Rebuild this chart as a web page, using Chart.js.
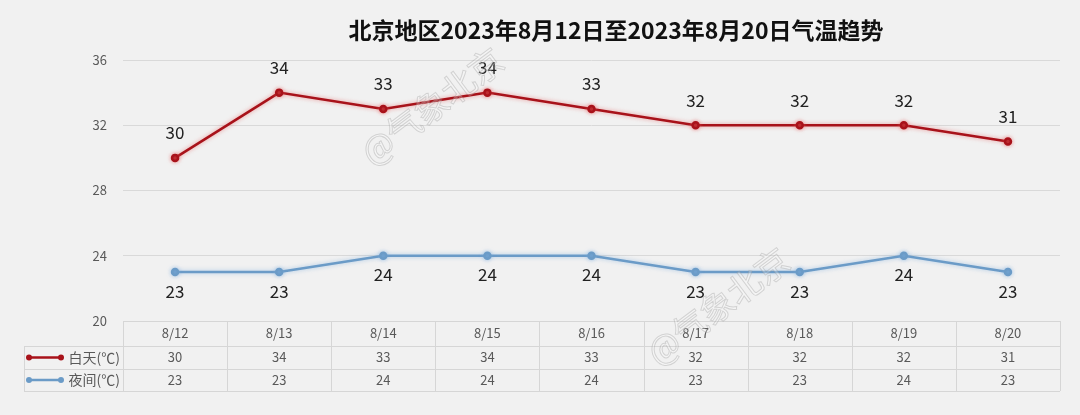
<!DOCTYPE html>
<html>
<head>
<meta charset="utf-8">
<script src="https://cdn.jsdelivr.net/npm/chart.js@4/dist/chart.umd.min.js"></script>
<style>
  html, body { margin: 0; padding: 0; background: #f1f1f1; }
  #wrap { width: 1080px; height: 415px; position: relative; }
</style>
</head>
<body>
<div id="wrap"><canvas id="tempChart"></canvas></div>
<script>
// Data
const days = ['8/12', '8/13', '8/14', '8/15', '8/16', '8/17', '8/18', '8/19', '8/20'];
const dayTemps = [30, 34, 33, 34, 33, 32, 32, 32, 31];
const nightTemps = [23, 23, 24, 24, 24, 23, 23, 24, 23];
const yTicks = [20, 24, 28, 32, 36];
const seriesNames = ['白天(℃)', '夜间(℃)'];
const titleText = '北京地区2023年8月12日至2023年8月20日气温趋势';

const FONT = '"Noto Sans CJK SC", "Noto Sans", sans-serif';
const RED = '#a8121a';
const BLUE = '#6b9bc7';

// value labels above / below the points
const valueLabels = {
  id: 'valueLabels',
  afterDatasetsDraw(chart) {
    const ctx = chart.ctx;
    ctx.save();
    ctx.font = '17px ' + FONT;
    ctx.fillStyle = '#222';
    ctx.textAlign = 'center';
    ctx.textBaseline = 'middle';
    chart.data.datasets.forEach((ds, i) => {
      const meta = chart.getDatasetMeta(i);
      meta.data.forEach((pt, j) => {
        const dy = i === 0 ? -25 : 19;
        ctx.fillText(String(ds.data[j]), pt.x, pt.y + dy);
      });
    });
    ctx.restore();
  }
};

// soft halo behind the lines
const halo = {
  id: 'halo',
  beforeDatasetDraw(chart, args) {
    const ctx = chart.ctx;
    ctx.save();
    ctx.shadowColor = args.index === 0 ? 'rgba(230,90,90,0.6)' : 'rgba(120,170,220,0.6)';
    ctx.shadowBlur = 4;
  },
  afterDatasetDraw(chart) {
    chart.ctx.restore();
  }
};

// title, data table and watermark
const extras = {
  id: 'extras',
  afterDraw(chart) {
    const ctx = chart.ctx;
    const area = chart.chartArea;
    const x = chart.scales.x;
    const step = (area.right - area.left) / days.length;
    const top = area.bottom;
    const rows = [top, top + 25, top + 48, top + 70];
    const tableLeft = 24;

    ctx.save();
    // title
    ctx.font = 'bold 23px ' + FONT;
    ctx.fillStyle = '#111';
    ctx.textAlign = 'center';
    ctx.textBaseline = 'middle';
    ctx.fillText(titleText, 616, 30);

    // table grid
    ctx.strokeStyle = '#d6d6d6';
    ctx.lineWidth = 1;
    ctx.beginPath();
    ctx.moveTo(area.left, rows[0] + 0.5); ctx.lineTo(area.right, rows[0] + 0.5);
    for (let r = 1; r < rows.length; r++) {
      ctx.moveTo(tableLeft, rows[r] + 0.5); ctx.lineTo(area.right, rows[r] + 0.5);
    }
    for (let c = 0; c <= days.length; c++) {
      const vx = Math.round(area.left + c * step) + 0.5;
      ctx.moveTo(vx, rows[0]); ctx.lineTo(vx, rows[3]);
    }
    ctx.moveTo(tableLeft + 0.5, rows[1]); ctx.lineTo(tableLeft + 0.5, rows[3]);
    ctx.stroke();

    // table text
    ctx.font = '13px ' + FONT;
    ctx.fillStyle = '#595959';
    days.forEach((d, j) => {
      const cx = x.getPixelForValue(j);
      ctx.fillText(d, cx, (rows[0] + rows[1]) / 2);
      ctx.fillText(String(dayTemps[j]), cx, (rows[1] + rows[2]) / 2);
      ctx.fillText(String(nightTemps[j]), cx, (rows[2] + rows[3]) / 2);
    });

    // legend keys in the row headers
    [RED, BLUE].forEach((col, i) => {
      const cy = (rows[i + 1] + rows[i + 2]) / 2;
      ctx.strokeStyle = col;
      ctx.fillStyle = col;
      ctx.lineWidth = 2.5;
      ctx.beginPath(); ctx.moveTo(29, cy); ctx.lineTo(61, cy); ctx.stroke();
      [29, 61].forEach(px => { ctx.beginPath(); ctx.arc(px, cy, 3, 0, Math.PI * 2); ctx.fill(); });
      ctx.fillStyle = '#595959';
      ctx.font = '14px ' + FONT;
      ctx.textAlign = 'right';
      ctx.fillText(seriesNames[i], 120, cy);
    });

    // faint watermark
    ctx.font = '34px ' + FONT;
    ctx.strokeStyle = 'rgba(150,150,150,0.35)';
    ctx.fillStyle = 'rgba(255,255,255,0.25)';
    ctx.lineWidth = 1;
    ctx.textAlign = 'center';
    [[432, 106], [718, 306]].forEach(([wx, wy]) => {
      ctx.save();
      ctx.translate(wx, wy);
      ctx.rotate(-37 * Math.PI / 180);
      ctx.fillText('@气象北京', 0, 0);
      ctx.strokeText('@气象北京', 0, 0);
      ctx.restore();
    });
    ctx.restore();
  }
};

const ctx = document.getElementById('tempChart').getContext('2d');
const tempChart = new Chart(ctx, {
  type: 'line',
  data: {
    labels: days,
    datasets: [{
      label: seriesNames[0],
      data: dayTemps,
      borderColor: RED,
      backgroundColor: RED,
      borderWidth: 2.5,
      pointRadius: 3,
      tension: 0
    }, {
      label: seriesNames[1],
      data: nightTemps,
      borderColor: BLUE,
      backgroundColor: BLUE,
      borderWidth: 2.5,
      pointRadius: 3,
      tension: 0
    }]
  },
  options: {
    responsive: true,
    maintainAspectRatio: false,
    animation: false,
    layout: { padding: { left: 60, right: 20, top: 60, bottom: 94 } },
    plugins: {
      legend: { display: false },
      title: { display: false },
      tooltip: { enabled: false }
    },
    scales: {
      x: {
        display: false,
        offset: true
      },
      y: {
        min: yTicks[0],
        max: yTicks[yTicks.length - 1],
        afterFit(scale) { scale.width = 63; },
        afterBuildTicks(scale) { scale.ticks = yTicks.map(v => ({ value: v })); },
        border: { display: false },
        grid: { color: '#d9d9d9', drawTicks: false, lineWidth: 1 },
        ticks: {
          color: '#595959',
          padding: 16,
          font: { size: 13, family: FONT }
        }
      }
    }
  },
  plugins: [halo, valueLabels, extras]
});
</script>
</body>
</html>
